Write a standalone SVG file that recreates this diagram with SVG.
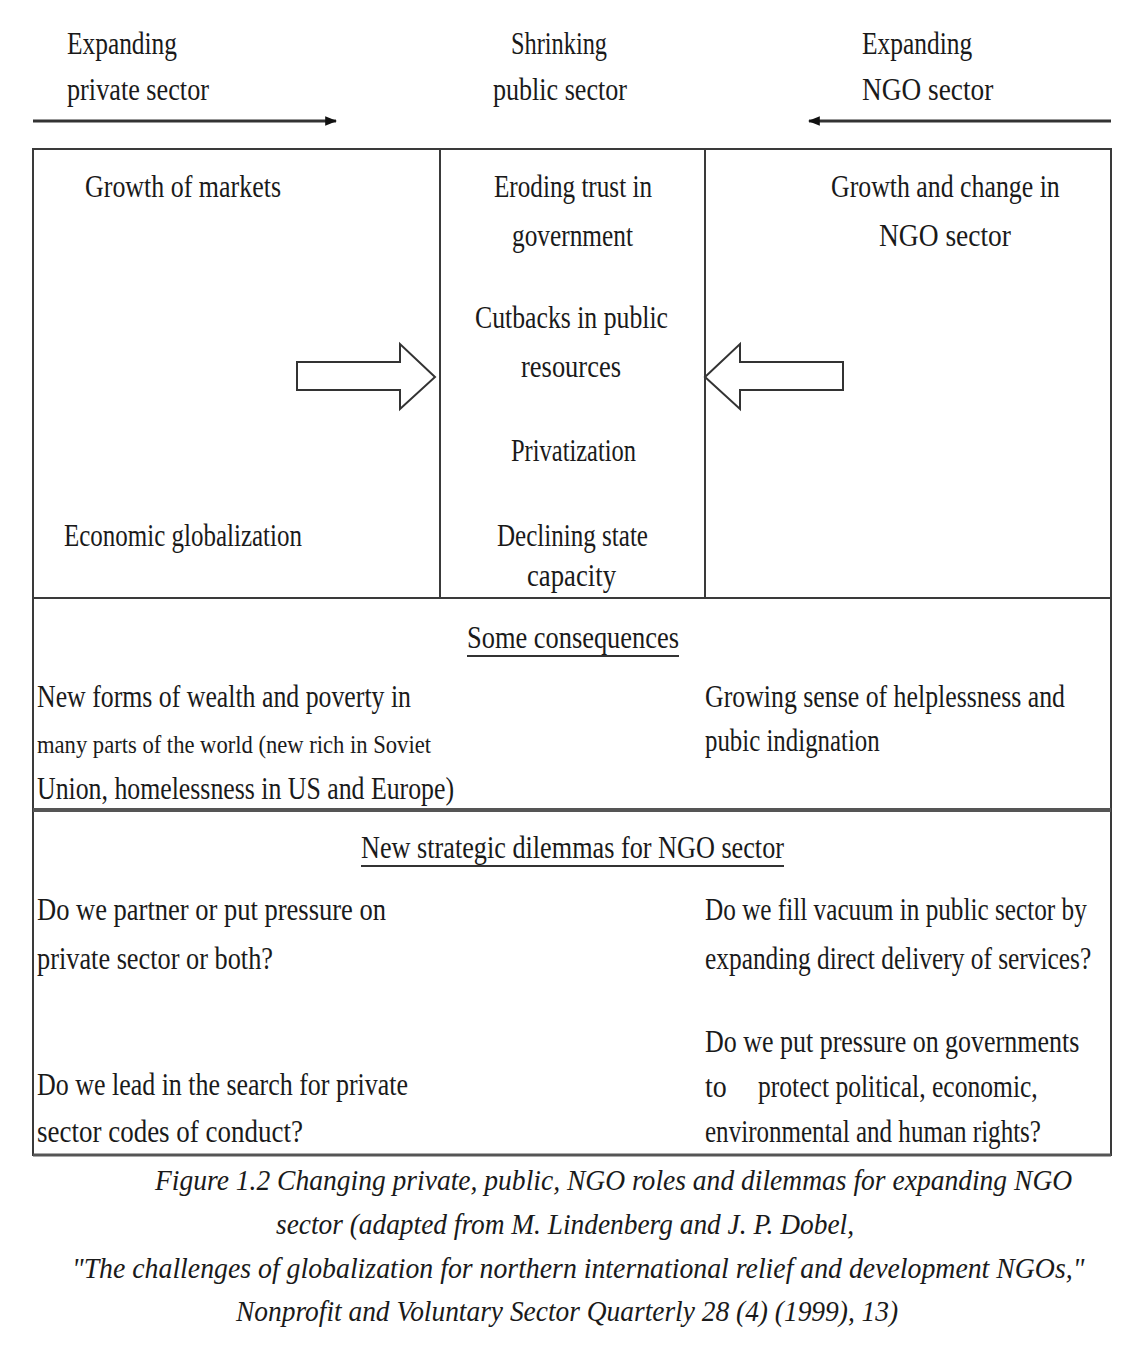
<svg xmlns="http://www.w3.org/2000/svg" width="1131" height="1347" viewBox="0 0 1131 1347">
<style>
text{font-family:"Liberation Serif","Times New Roman",serif;font-size:31px;fill:#1a1a1a}
.s{font-size:26px}
.cap{font-style:italic;font-size:30px}
.ln{stroke:#3a3a3a;stroke-width:2;fill:none}
.blk{fill:#fff;stroke:#333;stroke-width:2}
</style>
<defs>
<marker id="ah" viewBox="0 0 10 10" refX="9" refY="5" markerWidth="12" markerHeight="12" markerUnits="userSpaceOnUse" orient="auto">
<path d="M0,1 L10,5 L0,9 Z" fill="#111"/>
</marker>
</defs>
<rect width="1131" height="1347" fill="#fff"/>
<g id="headers">
<text x="67" y="54" textLength="110" lengthAdjust="spacingAndGlyphs">Expanding</text>
<text x="67" y="100" textLength="142" lengthAdjust="spacingAndGlyphs">private sector</text>
<text x="511" y="54" textLength="96" lengthAdjust="spacingAndGlyphs">Shrinking</text>
<text x="493" y="100" textLength="134" lengthAdjust="spacingAndGlyphs">public sector</text>
<text transform="translate(862,54) scale(0.75,1)" x="0" y="0" textLength="147" lengthAdjust="spacingAndGlyphs">Expanding</text>
<text transform="translate(862,100) scale(0.75,1)" x="0" y="0" textLength="175" lengthAdjust="spacingAndGlyphs">NGO sector</text>
</g>
<g id="connectors">
<line x1="33" y1="121" x2="336" y2="121" stroke="#333" stroke-width="3" marker-end="url(#ah)"/>
<line x1="1111" y1="121" x2="809" y2="121" stroke="#333" stroke-width="3" marker-end="url(#ah)"/>
<path class="blk" d="M297,362 L400,362 L400,344 L435,377 L400,409 L400,390 L297,390 Z"/>
<path class="blk" d="M843,362 L740,362 L740,344 L705,377 L740,409 L740,390 L843,390 Z"/>
</g>
<g id="frame">
<rect class="ln" x="33" y="149" width="1078" height="1006"/>
<line class="ln" x1="33" y1="149" x2="1111" y2="149" stroke-width="3"/>
<line class="ln" x1="440" y1="149" x2="440" y2="598"/>
<line class="ln" x1="705" y1="149" x2="705" y2="598"/>
<line class="ln" x1="33" y1="598" x2="1111" y2="598" stroke-width="3"/>
<line x1="33" y1="810" x2="1111" y2="810" stroke="#555" stroke-width="4"/>
<line x1="33" y1="1155" x2="1111" y2="1155" stroke="#555" stroke-width="3"/>
</g>
<g id="private">
<text x="85" y="197" textLength="196" lengthAdjust="spacingAndGlyphs">Growth of markets</text>
<text x="64" y="546" textLength="238" lengthAdjust="spacingAndGlyphs">Economic globalization</text>
</g>
<g id="public">
<text x="494" y="197" textLength="158" lengthAdjust="spacingAndGlyphs">Eroding trust in</text>
<text x="512" y="246" textLength="121" lengthAdjust="spacingAndGlyphs">government</text>
<text x="475" y="328" textLength="193" lengthAdjust="spacingAndGlyphs">Cutbacks in public</text>
<text x="521" y="377" textLength="100" lengthAdjust="spacingAndGlyphs">resources</text>
<text x="511" y="461" textLength="125" lengthAdjust="spacingAndGlyphs">Privatization</text>
<text x="497" y="546" textLength="151" lengthAdjust="spacingAndGlyphs">Declining state</text>
<text x="527" y="586" textLength="89" lengthAdjust="spacingAndGlyphs">capacity</text>
</g>
<g id="ngo">
<text transform="translate(831,197) scale(0.75,1)" x="0" y="0" textLength="305" lengthAdjust="spacingAndGlyphs">Growth and change in</text>
<text transform="translate(879,246) scale(0.75,1)" x="0" y="0" textLength="176" lengthAdjust="spacingAndGlyphs">NGO sector</text>
</g>
<g id="consequences">
<text x="467" y="648" textLength="212" lengthAdjust="spacingAndGlyphs">Some consequences</text>
<line x1="467" y1="656" x2="679" y2="656" stroke="#333" stroke-width="2"/>
<text x="37" y="707" textLength="374" lengthAdjust="spacingAndGlyphs">New forms of wealth and poverty in</text>
<text class="s" x="37" y="753" textLength="394" lengthAdjust="spacingAndGlyphs">many parts of the world (new rich in Soviet</text>
<text x="37" y="799" textLength="417" lengthAdjust="spacingAndGlyphs">Union, homelessness in US and Europe)</text>
<text transform="translate(705,707) scale(0.75,1)" x="0" y="0" textLength="480" lengthAdjust="spacingAndGlyphs">Growing sense of helplessness and</text>
<text transform="translate(705,751) scale(0.75,1)" x="0" y="0" textLength="233" lengthAdjust="spacingAndGlyphs">pubic indignation</text>
</g>
<g id="dilemmas">
<text x="361" y="858" textLength="423" lengthAdjust="spacingAndGlyphs">New strategic dilemmas for NGO sector</text>
<line x1="361" y1="866" x2="784" y2="866" stroke="#333" stroke-width="2"/>
<text x="37" y="920" textLength="349" lengthAdjust="spacingAndGlyphs">Do we partner or put pressure on</text>
<text x="37" y="969" textLength="236" lengthAdjust="spacingAndGlyphs">private sector or both?</text>
<text x="37" y="1095" textLength="371" lengthAdjust="spacingAndGlyphs">Do we lead in the search for private</text>
<text x="37" y="1142" textLength="266" lengthAdjust="spacingAndGlyphs">sector codes of conduct?</text>
<text transform="translate(705,920) scale(0.75,1)" x="0" y="0" textLength="509" lengthAdjust="spacingAndGlyphs">Do we fill vacuum in public sector by</text>
<text transform="translate(705,969) scale(0.75,1)" x="0" y="0" textLength="515" lengthAdjust="spacingAndGlyphs">expanding direct delivery of services?</text>
<text transform="translate(705,1052) scale(0.75,1)" x="0" y="0" textLength="499" lengthAdjust="spacingAndGlyphs">Do we put pressure on governments</text>
<text transform="translate(705,1097) scale(0.75,1)" x="0" y="0" textLength="29" lengthAdjust="spacingAndGlyphs">to</text>
<text transform="translate(758,1097) scale(0.75,1)" x="0" y="0" textLength="373" lengthAdjust="spacingAndGlyphs">protect political, economic,</text>
<text transform="translate(705,1142) scale(0.75,1)" x="0" y="0" textLength="448" lengthAdjust="spacingAndGlyphs">environmental and human rights?</text>
</g>
<g id="caption">
<text class="cap" transform="translate(155,1190) scale(0.85,1)" x="0" y="0" textLength="1079" lengthAdjust="spacingAndGlyphs">Figure 1.2 Changing private, public, NGO roles and dilemmas for expanding NGO</text>
<text class="cap" transform="translate(276,1234) scale(0.85,1)" x="0" y="0" textLength="680" lengthAdjust="spacingAndGlyphs">sector (adapted from M. Lindenberg and J. P. Dobel,</text>
<text class="cap" transform="translate(72,1278) scale(0.85,1)" x="0" y="0" textLength="1191" lengthAdjust="spacingAndGlyphs">"The challenges of globalization for northern international relief and development NGOs,"</text>
<text class="cap" transform="translate(236,1321) scale(0.85,1)" x="0" y="0" textLength="779" lengthAdjust="spacingAndGlyphs">Nonprofit and Voluntary Sector Quarterly 28 (4) (1999), 13)</text>
</g>
</svg>
